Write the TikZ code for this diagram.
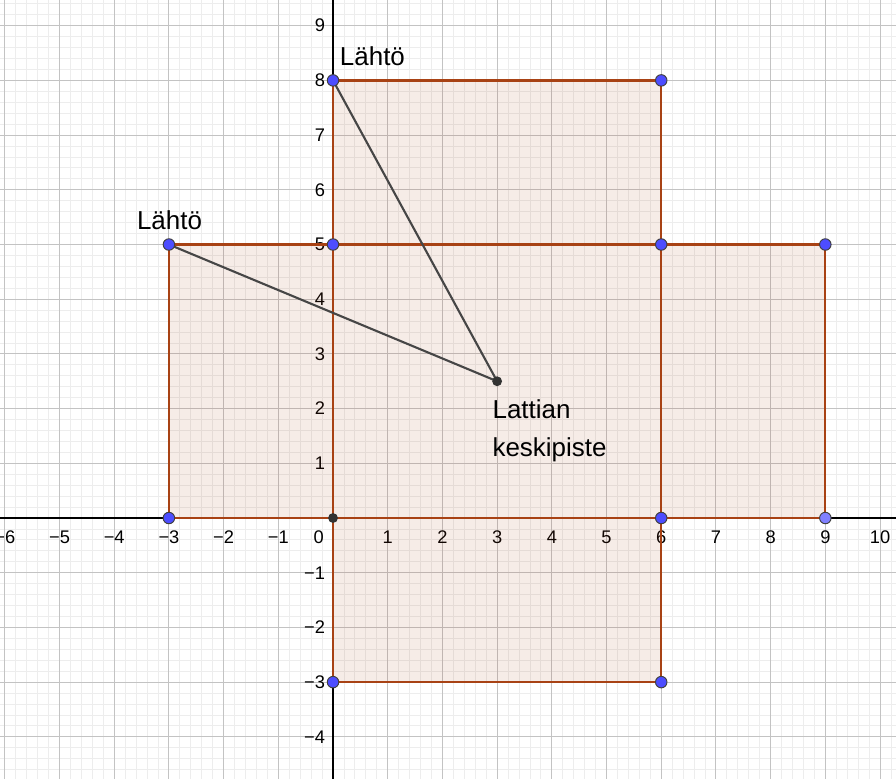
\documentclass[tikz,border=0pt]{standalone}
\usepackage{fontspec}
\setmainfont{Liberation Sans}
\usetikzlibrary{positioning}
\definecolor{wall}{RGB}{168,66,20}
\definecolor{pointblue}{RGB}{77,77,255}
\definecolor{pointlight}{RGB}{128,128,255}
\definecolor{pointdark}{RGB}{51,51,51}
\definecolor{segdark}{RGB}{70,70,70}
\definecolor{gridmajor}{RGB}{195,195,195}
\definecolor{gridminor}{RGB}{237,237,237}

\begin{document}
\begin{tikzpicture}[x=1cm,y=1cm]
  \tikzstyle{wallbox}=[draw=wall,line width=1.2pt,fill=wall,fill opacity=0.1]
  \tikzstyle{bluept}=[circle,fill=pointblue,draw=black!75,line width=0.5pt,inner sep=0pt,minimum size=0.21cm]
  \tikzstyle{darkpt}=[circle,fill=pointdark,inner sep=0pt,minimum size=0.18cm]
  \tikzstyle{ticklbl}=[font=\fontsize{9.5}{11}\selectfont,inner sep=0pt]
  \tikzstyle{lbl}=[font=\fontsize{13.5}{19.9}\selectfont,inner sep=0pt,align=left]
  \useasboundingbox (-6.088,-4.753) rectangle (10.292,9.47);
  \begin{scope}
    \clip (-6.088,-4.753) rectangle (10.292,9.47);
    \draw[gridminor,line width=0.45pt] (-6.2,-4.8) grid[step=0.2] (10.4,9.6);
    \draw[gridmajor,line width=0.55pt] (-7,-5) grid[step=1] (11,10);
    \draw[black,line width=0.6pt] (-6.2,0) -- (10.4,0);
    \draw[black,line width=0.6pt] (0,-4.8) -- (0,9.6);
    % axis numbers
    \foreach \x in {1,...,6} \node[ticklbl] (xm\x) at (-\x,-0.35) {−\x};
    \foreach \x in {1,...,10} \node[ticklbl] (xp\x) at (\x,-0.35) {\x};
    \foreach \y in {1,...,4} \node[ticklbl,anchor=east] (ym\y) at (-0.14,-\y) {−\y};
    \foreach \y in {1,...,9} \node[ticklbl,anchor=east] (yp\y) at (-0.14,\y) {\y};
    \node[ticklbl] (zero) at (-0.26,-0.35) {0};
  \end{scope}
  % corners of the unfolded room
  \coordinate (o) at (0,0);
  \coordinate (b) at (6,0);
  \coordinate (c) at (6,5);
  \coordinate (d) at (0,5);
  \coordinate (start1) at (0,8);
  \coordinate (f) at (6,8);
  \coordinate (start2) at (-3,5);
  \coordinate (h) at (-3,0);
  \coordinate (i) at (9,5);
  \coordinate (j) at (9,0);
  \coordinate (k) at (0,-3);
  \coordinate (l) at (6,-3);
  \coordinate (mid) at (3,2.5);
  \filldraw[wallbox] (o) -- (b) -- (c) -- (d) -- cycle;
  \filldraw[wallbox] (d) -- (c) -- (f) -- (start1) -- cycle;
  \filldraw[wallbox] (h) -- (o) -- (d) -- (start2) -- cycle;
  \filldraw[wallbox] (b) -- (j) -- (i) -- (c) -- cycle;
  \filldraw[wallbox] (k) -- (l) -- (b) -- (o) -- cycle;
  \draw[segdark,line width=1.1pt] (start1) -- (mid);
  \draw[segdark,line width=1.1pt] (start2) -- (mid);
  \foreach \p in {start1,f,d,c,i,start2,h,b,k,l} \node[bluept] (pt-\p) at (\p) {};
  \node[bluept,fill=pointlight] (pt-j) at (j) {};
  \node[darkpt] (pt-o) at (o) {};
  \node[darkpt] (pt-mid) at (mid) {};
  \node[lbl,anchor=base west] (lahto1) at (0.12,8.28) {Lähtö};
  \node[lbl,anchor=base west] (lahto2) at (-3.59,5.27) {Lähtö};
  \node[lbl,anchor=north west] (keski) at (2.91,2.17) {Lattian\\keskipiste};
\end{tikzpicture}
\end{document}
